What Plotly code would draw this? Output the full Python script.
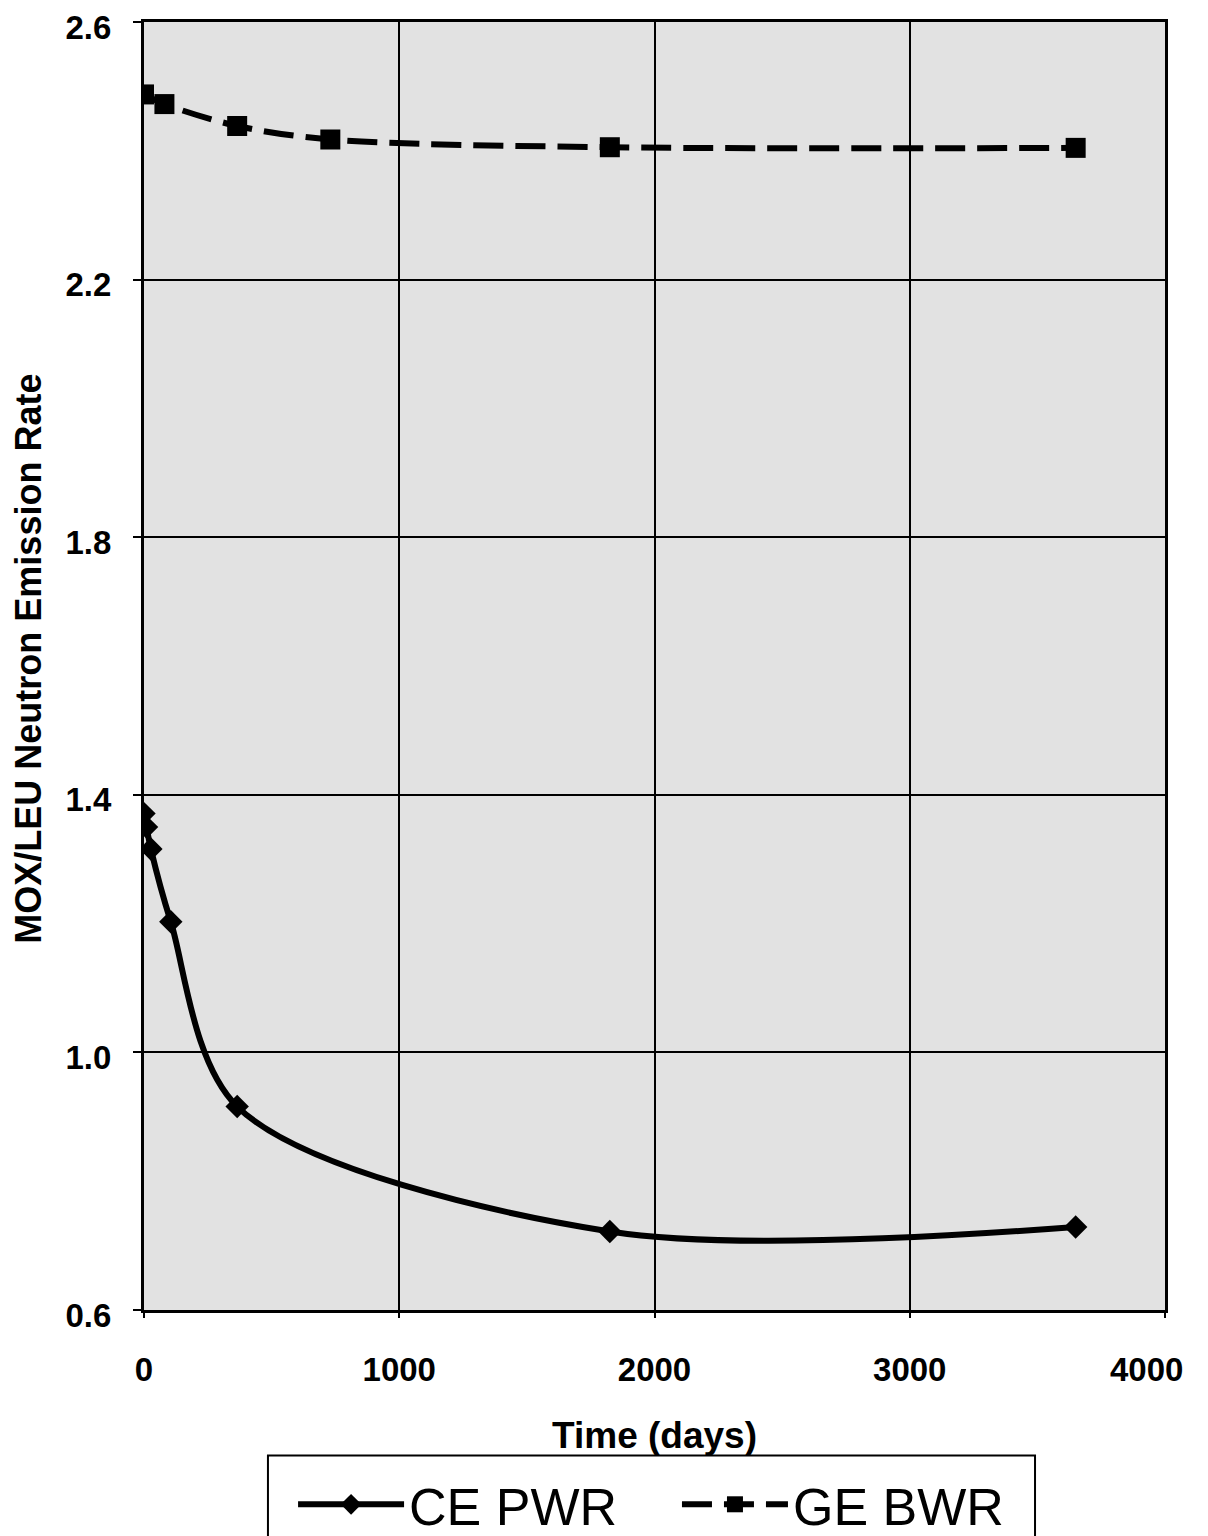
import plotly.graph_objects as go

# Data
ce_pwr_days = [0, 10, 27, 105, 365, 1825, 3650]
ce_pwr_ratio = [1.371, 1.350, 1.316, 1.203, 0.916, 0.722, 0.729]

ge_bwr_days = [0, 80, 365, 730, 1825, 3650]
ge_bwr_ratio = [2.488, 2.473, 2.439, 2.418, 2.406, 2.405]

x_ticks = [0, 1000, 2000, 3000, 4000]
x_tick_text = ["0", "1000", "2000", "3000", "4000\u00a0\u00a0\u00a0\u00a0"]
y_ticks = [0.6, 1.0, 1.4, 1.8, 2.2, 2.6]

x_title = "Time (days)"
y_title = "MOX/LEU Neutron Emission Rate"

font_family = "Liberation Sans, Arial, sans-serif"

fig = go.Figure()
fig.add_trace(go.Scatter(
    x=ce_pwr_days, y=ce_pwr_ratio, name="CE PWR", mode="lines+markers",
    line=dict(color="black", width=6, shape="spline", smoothing=0.9),
    marker=dict(symbol="diamond", size=18, color="black"),
    legend="legend",
))
fig.add_trace(go.Scatter(
    x=ge_bwr_days, y=ge_bwr_ratio, name="GE BWR", mode="lines+markers",
    line=dict(color="black", width=6, dash="30px,12px", shape="spline", smoothing=0.9),
    marker=dict(symbol="square", size=20, color="black"),
    legend="legend2",
))

# legend frame
fig.add_shape(type="rect", xref="paper", yref="paper",
              x0=0.1214, x1=0.8727, y0=-0.2, y1=-0.113,
              line=dict(color="black", width=2), fillcolor="white", layer="below")

# y-axis title as rotated text placed close to the left edge
fig.add_annotation(text=y_title, xref="paper", yref="paper",
                   x=-0.114, y=0.5054, xanchor="center", yanchor="middle",
                   textangle=-90, showarrow=False,
                   font=dict(family=font_family, size=36, color="black", weight="bold"))

legend_common = dict(orientation="h", y=-0.151, yanchor="middle",
                     font=dict(family=font_family, size=52, color="black"),
                     bgcolor="rgba(0,0,0,0)", borderwidth=0, itemwidth=106)

fig.update_layout(
    width=1208, height=1536,
    margin=dict(l=136, r=51, t=14, b=234, autoexpand=False),
    paper_bgcolor="white",
    plot_bgcolor="#e2e2e2",
    showlegend=True,
    legend=dict(x=0.146, xanchor="left", **legend_common),
    legend2=dict(x=0.522, xanchor="left", **legend_common),
    xaxis=dict(
        range=[0, 4000], tickvals=x_ticks, ticktext=x_tick_text,
        showgrid=True, gridcolor="black", gridwidth=2,
        showline=True, linecolor="black", linewidth=3, mirror=True,
        ticks="outside", ticklen=5, tickcolor="black", tickwidth=2,
        ticklabelstandoff=23, ticklabeloverflow="allow", automargin=False,
        tickfont=dict(family=font_family, size=33, color="black", weight="bold"),
        title=dict(text=x_title, standoff=36,
                   font=dict(family=font_family, size=37, color="black", weight="bold")),
        zeroline=False,
    ),
    yaxis=dict(
        range=[0.6, 2.6005], tickvals=y_ticks, ticktext=[f"{v:.1f}" for v in y_ticks],
        showgrid=True, gridcolor="black", gridwidth=2,
        showline=True, linecolor="black", linewidth=3, mirror=True,
        ticks="outside", ticklen=8, tickcolor="black", tickwidth=2,
        ticklabelstandoff=15, ticklabelshift=5, ticklabeloverflow="allow", automargin=False,
        tickfont=dict(family=font_family, size=33, color="black", weight="bold"),
        zeroline=False,
    ),
)

fig.write_html("out.html")
